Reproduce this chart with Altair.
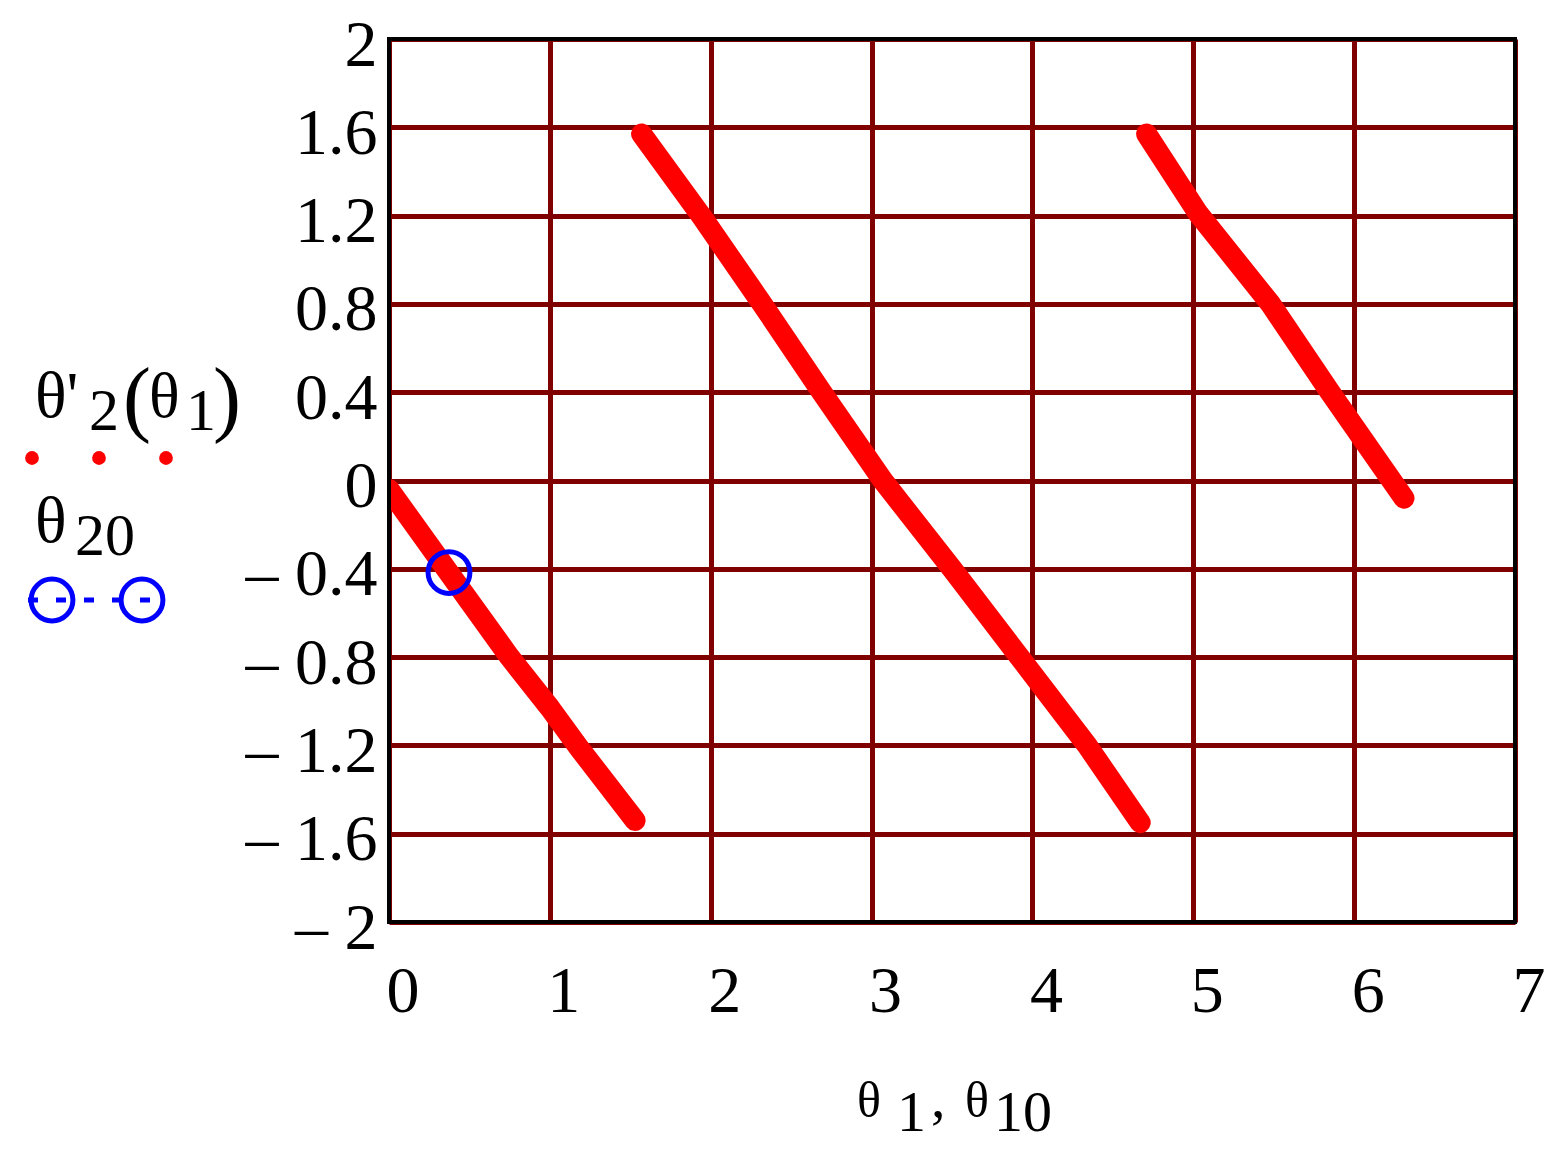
import altair as alt
import pandas as pd

# ---- data ----
seg1_x = [0.0, 0.355, 0.75, 1.0, 1.18, 1.53]
seg1_y = [-0.04, -0.40, -0.80, -1.03, -1.21, -1.54]
seg2_x = [1.57, 1.94, 2.32, 2.69, 3.07, 3.50, 3.92, 4.34, 4.67]
seg2_y = [1.57, 1.20, 0.80, 0.40, 0.00, -0.40, -0.80, -1.20, -1.55]
seg3_x = [4.71, 5.03, 5.48, 5.85, 6.31]
seg3_y = [1.57, 1.21, 0.80, 0.40, -0.08]
theta20_x = [0.373]
theta20_y = [-0.417]

x_ticks = [0, 1, 2, 3, 4, 5, 6, 7]
x_tick_labels = ["0", "1", "2", "3", "4", "5", "6", "7"]
y_ticks = [-2.0, -1.6, -1.2, -0.8, -0.4, 0.0, 0.4, 0.8, 1.2, 1.6, 2.0]
y_tick_labels = ["– 2", "– 1.6", "– 1.2", "– 0.8", "– 0.4", "0", "0.4", "0.8", "1.2", "1.6", "2"]

# ---- layout ----
W, H = 1126, 883
OX, OY = 389, 39  # page position of plot origin
FONT = "Liberation Serif"


def label_expr(vals, labels):
    expr = "''"
    for v, l in zip(reversed(vals), reversed(labels)):
        expr = f"datum.value == {v} ? '{l}' : ({expr})"
    return expr


red = pd.DataFrame({
    "x": seg1_x + seg2_x + seg3_x,
    "y": seg1_y + seg2_y + seg3_y,
    "seg": [1] * len(seg1_x) + [2] * len(seg2_x) + [3] * len(seg3_x),
})
blue = pd.DataFrame({"x": theta20_x, "y": theta20_y})

xscale = alt.Scale(domain=[0, 7], nice=False, zero=False)
yscale = alt.Scale(domain=[-2, 2], nice=False, zero=False)

xaxis = alt.Axis(values=x_ticks, labelExpr=label_expr(x_ticks, x_tick_labels),
                 labelAlign="left", labelBaseline="alphabetic", labelPadding=89,
                 labelOffset=-3, labelFlush=False, labelOverlap=False, title=None)
yaxis = alt.Axis(values=y_ticks, labelExpr=label_expr(y_ticks, y_tick_labels),
                 labelAlign="right", labelBaseline="middle", labelPadding=12, labelOffset=6,
                 labelFlush=False, labelOverlap=False, title=None)

lines = alt.Chart(red).mark_line(color="#ff0000", strokeWidth=21, strokeCap="round",
                                 strokeJoin="round", clip=True).encode(
    x=alt.X("x:Q", scale=xscale, axis=xaxis),
    y=alt.Y("y:Q", scale=yscale, axis=yaxis),
    detail="seg:N",
)

circ = alt.Chart(blue).mark_point(shape="circle", filled=False, color="#0000ff",
                                  strokeWidth=5, size=1750, opacity=1).encode(
    x=alt.X("x:Q", scale=xscale), y=alt.Y("y:Q", scale=yscale))

frame = alt.Chart(pd.DataFrame({"a": [0]})).mark_rect(
    fillOpacity=0, stroke="black", strokeWidth=4).encode(
    x=alt.value(0), x2=alt.value(W), y=alt.value(0), y2=alt.value(H))

# ---- annotation text (legend and axis title), page coordinates ----
ann = [
    ("θ'", 35, 417, 66), ("2", 89, 430, 60), ("(", 123, 426, 84), ("θ", 149, 417, 64),
    ("1", 186, 430, 60), (")", 213, 426, 84),
    ("θ", 35, 542, 66), ("20", 75, 555, 60),
    ("θ", 857, 1117, 50), ("1", 897, 1131, 58), (",", 931, 1117, 58),
    ("θ", 965, 1117, 50), ("10", 994, 1131, 58),
]
ann_df = pd.DataFrame({
    "t": [a[0] for a in ann],
    "px": [a[1] - OX for a in ann],
    "py": [a[2] - OY for a in ann],
    "fs": [a[3] for a in ann],
})
texts = alt.Chart(ann_df).mark_text(font=FONT, align="left", baseline="alphabetic",
                                    color="black").encode(
    x=alt.X("px:Q", scale=None, axis=None),
    y=alt.Y("py:Q", scale=None, axis=None),
    text="t:N",
    size=alt.Size("fs:Q", scale=None, legend=None),
)

leg_red = pd.DataFrame({"px": [32 - OX, 99 - OX, 166 - OX], "py": [458 - OY] * 3})
red_dots = alt.Chart(leg_red).mark_point(shape="circle", filled=True, color="#ff0000",
                                         size=190, opacity=1).encode(
    x=alt.X("px:Q", scale=None, axis=None), y=alt.Y("py:Q", scale=None, axis=None))

leg_blue = pd.DataFrame({"px": [52 - OX, 142 - OX], "py": [600 - OY] * 2})
blue_circs = alt.Chart(leg_blue).mark_point(shape="circle", filled=False, color="#0000ff",
                                            strokeWidth=5, size=1750, opacity=1).encode(
    x=alt.X("px:Q", scale=None, axis=None), y=alt.Y("py:Q", scale=None, axis=None))
blue_dash = alt.Chart(pd.DataFrame({"a": [0]})).mark_rule(
    color="#0000ff", strokeWidth=5, strokeDash=[10, 18]).encode(
    x=alt.value(28 - OX), x2=alt.value(156 - OX), y=alt.value(600 - OY))

chart = alt.layer(lines, circ, frame, texts, red_dots, blue_dash, blue_circs).properties(
    width=W, height=H,
    autosize=alt.AutoSizeParams(type="none"),
    padding={"left": OX - 8, "top": OY - 8, "right": 32, "bottom": 218},
).configure_view(stroke=None).configure_axis(
    gridColor="#800000", gridWidth=5, gridOpacity=1, domain=False, ticks=False, tickSize=0,
    labelFont=FONT, labelFontSize=66, labelColor="black",
)

chart.save("out.html", embed_options={"renderer": "svg", "actions": False})
